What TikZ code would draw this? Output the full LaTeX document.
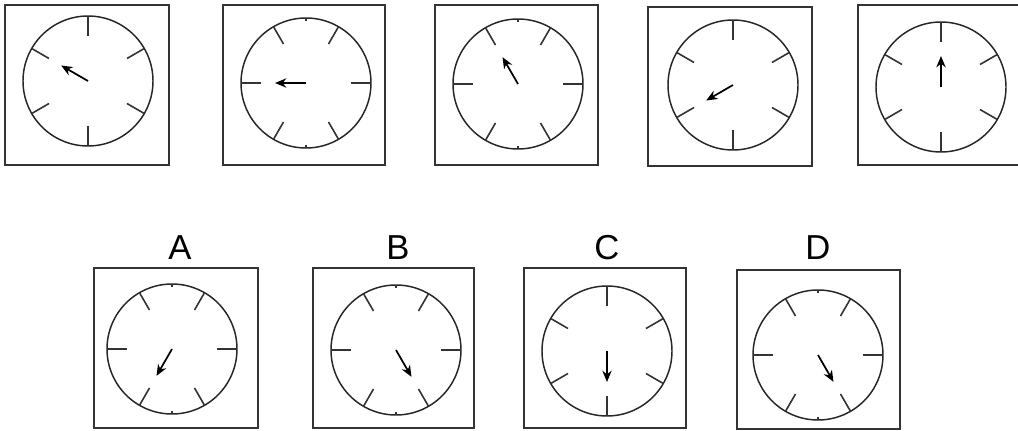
\documentclass[tikz,border=0pt]{standalone}
\usepackage{fontspec}
\setmainfont{Liberation Sans}
\usetikzlibrary{arrows.meta,calc}
\tikzset{
  frame/.style={draw=black!80, line width=1.6pt},
  dial/.style={draw=black!85, line width=1.1pt},
  tickmark/.style={draw=black!80, line width=1.2pt},
  hand/.style={draw=black, line width=1.3pt, -{Stealth[length=8.5pt,width=7pt]}},
  lab/.style={font=\fontsize{26}{26}\selectfont, inner sep=0pt}
}
\newcommand\clockfig[4]{%
  \coordinate (#1) at (#2);
  \draw[dial] (#1) circle (65);
  \foreach \a in {0,60,...,300}
    \draw[tickmark] ($(#1)+(\a+#3:65)$) -- ($(#1)+(\a+#3:45)$);
  \ifnum#3=0
    \foreach \a in {90,270}
      \draw[tickmark] ($(#1)+(\a:65)$) -- ($(#1)+(\a:62)$);
  \fi
  \draw[hand] (#1) -- ($(#1)+(#4:31)$);
}
\begin{document}
\begin{tikzpicture}[x=0.75pt,y=0.75pt]
\useasboundingbox (0,0) rectangle (1018,430);
% top row
\draw[frame] (5,265) rectangle (169,425);
\clockfig{c1}{88,349}{30}{150}
\draw[frame] (223,265) rectangle (385,425);
\clockfig{c2}{306,347}{0}{180}
\draw[frame] (435,265) rectangle (598,425);
\clockfig{c3}{518,346}{0}{120}
\draw[frame] (648,264) rectangle (812,423);
\clockfig{c4}{733,345}{30}{210}
\draw[frame] (858,265) rectangle (1021,425);
\clockfig{c5}{941,343}{30}{90}
% answers
\node[lab] (labA) at (180,182) {A};
\draw[frame] (94,2) rectangle (258,162);
\clockfig{cA}{172,81}{0}{240}
\node[lab] (labB) at (398,182) {B};
\draw[frame] (313,2) rectangle (474,162);
\clockfig{cB}{396,80}{0}{300}
\node[lab] (labC) at (607,182) {C};
\draw[frame] (524,2) rectangle (686,162);
\clockfig{cC}{607,79}{30}{270}
\node[lab] (labD) at (818,182) {D};
\draw[frame] (737,1) rectangle (900,160);
\clockfig{cD}{818,75}{0}{300}
\end{tikzpicture}
\end{document}
